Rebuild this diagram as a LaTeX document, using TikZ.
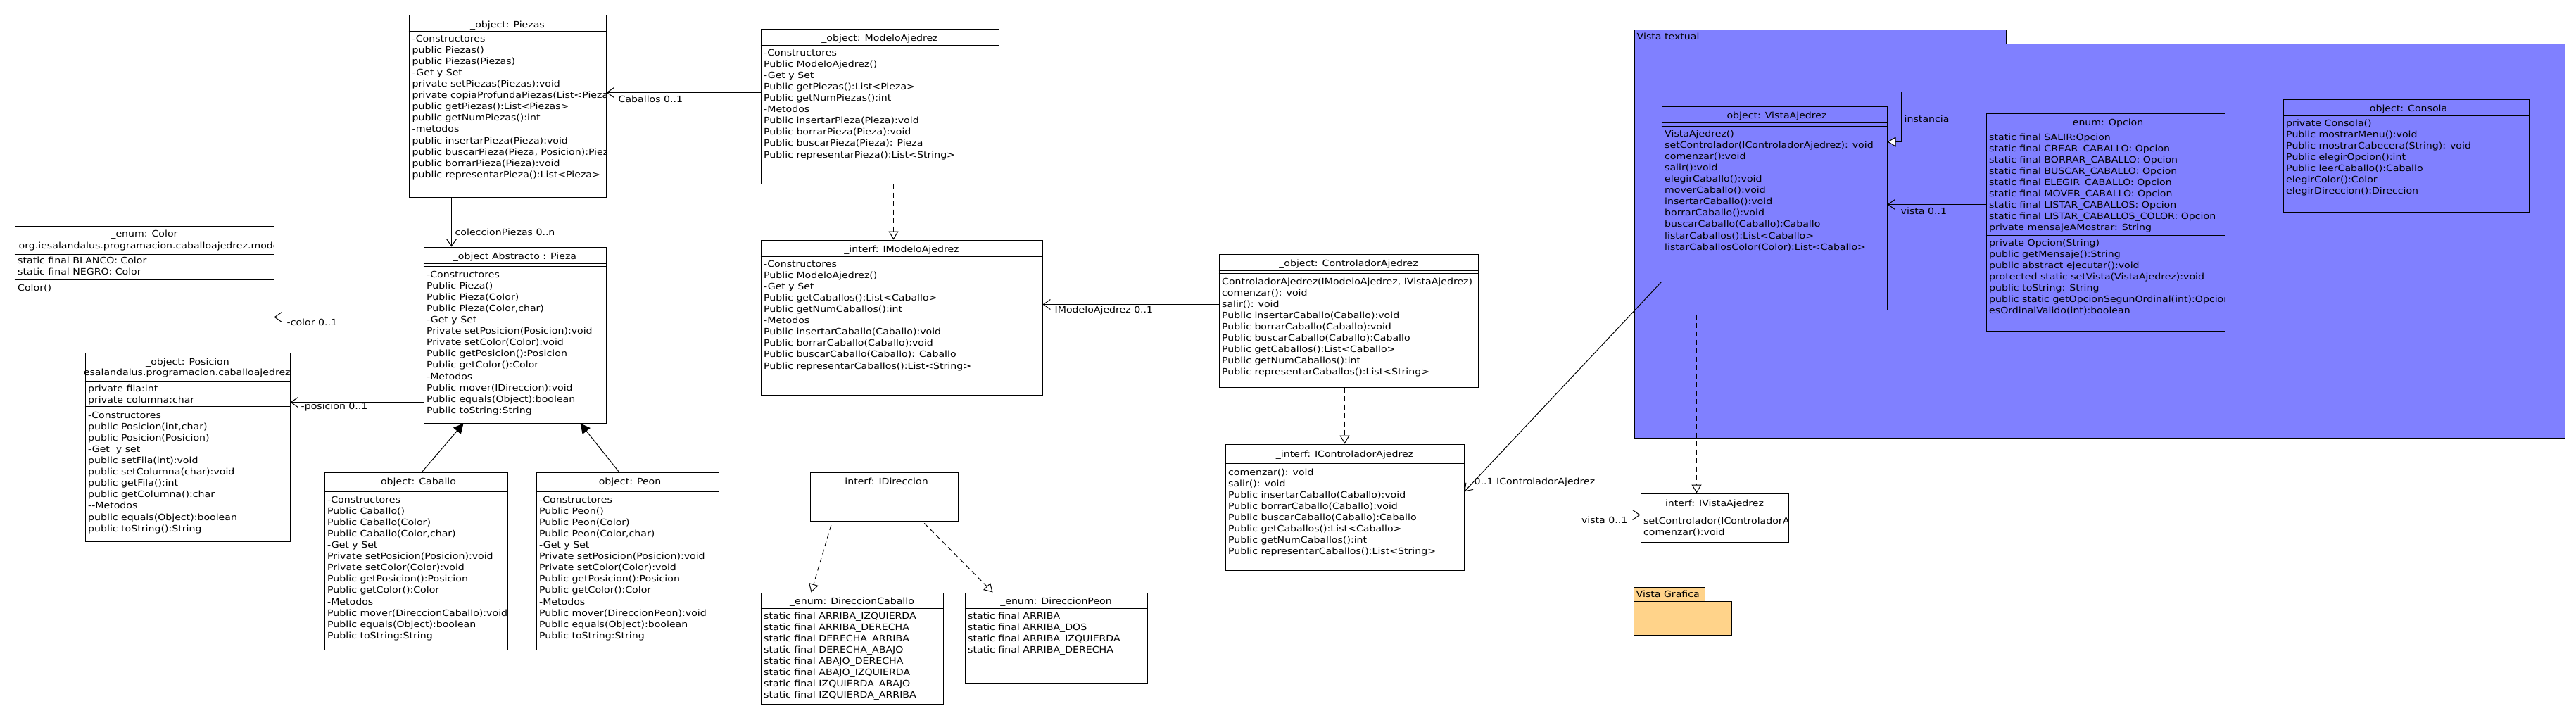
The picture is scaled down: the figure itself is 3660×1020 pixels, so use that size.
\documentclass[tikz,border=0pt]{standalone}
\usepackage{fontspec}
\setmainfont{DejaVu Sans}[FakeStretch=1.13]
\usetikzlibrary{arrows.meta,calc}
\newcommand\fs{\fontsize{12.5}{16.1}\selectfont}
\definecolor{vtfill}{RGB}{128,128,255}
\definecolor{vgfill}{RGB}{255,211,138}
\newcommand\cls[5]{\node[ubox, minimum width=#4pt, minimum height=#5pt] (#1) at (#2,#3) {};}
\newcommand\ksep[2]{\draw[sepl] (#1.west |- 0,#2) -- (#1.east |- 0,#2);}
\newcommand\kdsep[3]{\ksep{#1}{#2}\ksep{#1}{#3}}
\newcommand\kclip[1]{\clip (#1.north west) rectangle (#1.south east);}
\begin{document}
\begin{tikzpicture}[x=1pt,y=-1pt,
 ubox/.style={draw, line width=1pt, inner sep=0pt, anchor=north west},
 txt/.style={anchor=north west, inner sep=0pt, align=left, font=\fs},
 ttl/.style={anchor=base, inner sep=0pt, font=\fs},
 lbl/.style={anchor=base west, inner sep=0pt, font=\fs},
 sepl/.style={line width=1pt},
 assoc/.style={line width=1pt, -{Straight Barb[length=10pt,width=14pt]}},
 gen/.style={line width=1pt, -{Triangle[length=14pt,width=14pt]}},
 real/.style={line width=1pt, dash pattern=on 7pt off 5pt, -{Triangle[length=12pt,width=14pt,fill=white]}},
 loopa/.style={line width=1pt, -{Triangle[length=12pt,width=14pt,fill=white]}},
]
\fill[white] (0,0) rectangle (3660,1020);
\useasboundingbox (0,0) rectangle (3660,1020);
\begin{scope}[shift={(0.5,0.5)}]

% ---------- packages ----------
\node[ubox, fill=vtfill, minimum width=528pt, minimum height=20pt] (vttab) at (2321,41) {};
\node[ubox, fill=vtfill, minimum width=1322pt, minimum height=560pt] (vtbody) at (2321,61) {};
\node[lbl] (vtlbl) at (2325,55.5) {Vista textual};
\node[ubox, fill=vgfill, minimum width=101pt, minimum height=20pt] (vgtab) at (2320,833) {};
\node[ubox, fill=vgfill, minimum width=139pt, minimum height=48pt] (vgbody) at (2320,853) {};
\node[lbl] (vglbl) at (2324,847.5) {Vista Grafica};

% ---------- Piezas ----------
\cls{piezas}{580}{20}{280}{259}
\ksep{piezas}{44}
\begin{scope}\kclip{piezas}
\node[ttl] (piezas-t) at ($(piezas.north)+(0,18.5)$) {\_object: Piezas};
\node[txt] (piezas-b) at (585,47.2) {\strut-Constructores\\public Piezas()\\public Piezas(Piezas)\\-Get y Set\\private setPiezas(Piezas):void\\private copiaProfundaPiezas(List<Pieza>):void\\public getPiezas():List<Piezas>\\public getNumPiezas():int\\-metodos\\public insertarPieza(Pieza):void\\public buscarPieza(Pieza, Posicion):Pieza\\public borrarPieza(Pieza):void\\public representarPieza():List<Pieza>};
\end{scope}

% ---------- ModeloAjedrez ----------
\cls{modelo}{1080}{40}{338}{220}
\ksep{modelo}{64}
\begin{scope}\kclip{modelo}
\node[ttl] (modelo-t) at ($(modelo.north)+(0,17.8)$) {\_object: ModeloAjedrez};
\node[txt] (modelo-b) at (1084.5,67.2) {\strut-Constructores\\Public ModeloAjedrez()\\-Get y Set\\Public getPiezas():List<Pieza>\\Public getNumPiezas():int\\-Metodos\\Public insertarPieza(Pieza):void\\Public borrarPieza(Pieza):void\\Public buscarPieza(Pieza): Pieza\\Public representarPieza():List<String>};
\end{scope}

% ---------- Color ----------
\cls{color}{20}{320}{368}{129}
\ksep{color}{361}
\ksep{color}{397}
\begin{scope}\kclip{color}
\node[ttl] (color-t) at ($(color.north)+(0,15.5)$) {\_enum: Color};
\node[lbl] (color-p) at (26,352.5) {org.iesalandalus.programacion.caballoajedrez.modelo};
\node[txt] (color-a) at (24.5,362.2) {\strut static final BLANCO: Color\\static final NEGRO: Color};
\node[txt] (color-m) at (24.5,401.2) {\strut Color()};
\end{scope}

% ---------- Pieza ----------
\cls{pieza}{601}{350}{259}{250}
\kdsep{pieza}{374}{378}
\begin{scope}\kclip{pieza}
\node[ttl] (pieza-t) at ($(pieza.north)+(0,17.5)$) {\_object Abstracto : Pieza};
\node[txt] (pieza-b) at (605.5,382.2) {\strut-Constructores\\Public Pieza()\\Public Pieza(Color)\\Public Pieza(Color,char)\\-Get y Set\\Private setPosicion(Posicion):void\\Private setColor(Color):void\\Public getPosicion():Posicion\\Public getColor():Color\\-Metodos\\Public mover(IDireccion):void\\Public equals(Object):boolean\\Public toString:String};
\end{scope}

% ---------- Posicion ----------
\cls{posicion}{120}{500}{291}{268}
\ksep{posicion}{541}
\ksep{posicion}{577}
\begin{scope}\kclip{posicion}
\node[ttl] (posicion-t) at ($(posicion.north)+(0,17.5)$) {\_object: Posicion};
\node[ttl] (posicion-p) at ($(posicion.north)+(12,32.5)$) {org.iesalandalus.programacion.caballoajedrez.modelo};
\node[txt] (posicion-a) at (124.5,544.2) {\strut private fila:int\\private columna:char};
\node[txt] (posicion-m) at (124.5,582.2) {\strut-Constructores\\public Posicion(int,char)\\public Posicion(Posicion)\\-Get~ y set\\public setFila(int):void\\public setColumna(char):void\\public getFila():int\\public getColumna():char\\-{}-Metodos\\public equals(Object):boolean\\public toString():String};
\end{scope}

% ---------- Caballo ----------
\cls{caballo}{460}{670}{260}{252}
\kdsep{caballo}{694}{698}
\begin{scope}\kclip{caballo}
\node[ttl] (caballo-t) at ($(caballo.north)+(0,17.5)$) {\_object: Caballo};
\node[txt] (caballo-b) at (464.5,702.2) {\strut-Constructores\\Public Caballo()\\Public Caballo(Color)\\Public Caballo(Color,char)\\-Get y Set\\Private setPosicion(Posicion):void\\Private setColor(Color):void\\Public getPosicion():Posicion\\Public getColor():Color\\-Metodos\\Public mover(DireccionCaballo):void\\Public equals(Object):boolean\\Public toString:String};
\end{scope}

% ---------- Peon ----------
\cls{peon}{761}{670}{259}{252}
\kdsep{peon}{694}{698}
\begin{scope}\kclip{peon}
\node[ttl] (peon-t) at ($(peon.north)+(0,17.5)$) {\_object: Peon};
\node[txt] (peon-b) at (765.5,702.2) {\strut-Constructores\\Public Peon()\\Public Peon(Color)\\Public Peon(Color,char)\\-Get y Set\\Private setPosicion(Posicion):void\\Private setColor(Color):void\\Public getPosicion():Posicion\\Public getColor():Color\\-Metodos\\Public mover(DireccionPeon):void\\Public equals(Object):boolean\\Public toString:String};
\end{scope}

% ---------- IModeloAjedrez ----------
\cls{imodelo}{1080}{340}{400}{220}
\ksep{imodelo}{364}
\begin{scope}\kclip{imodelo}
\node[ttl] (imodelo-t) at ($(imodelo.north)+(0,17.5)$) {\_interf: IModeloAjedrez};
\node[txt] (imodelo-b) at (1084.5,367.2) {\strut-Constructores\\Public ModeloAjedrez()\\-Get y Set\\Public getCaballos():List<Caballo>\\Public getNumCaballos():int\\-Metodos\\Public insertarCaballo(Caballo):void\\Public borrarCaballo(Caballo):void\\Public buscarCaballo(Caballo): Caballo\\Public representarCaballos():List<String>};
\end{scope}

% ---------- IDireccion ----------
\cls{idir}{1150}{670}{210}{69}
\ksep{idir}{694}
\node[ttl] (idir-t) at ($(idir.north)+(0,17.5)$) {\_interf: IDireccion};

% ---------- DireccionCaballo ----------
\cls{dircab}{1080}{841}{259}{158}
\ksep{dircab}{864}
\begin{scope}\kclip{dircab}
\node[ttl] (dircab-t) at ($(dircab.north)+(0,16.5)$) {\_enum: DireccionCaballo};
\node[txt] (dircab-b) at (1084.5,867.2) {\strut static final ARRIBA\_IZQUIERDA\\static final ARRIBA\_DERECHA\\static final DERECHA\_ARRIBA\\static final DERECHA\_ABAJO\\static final ABAJO\_DERECHA\\static final ABAJO\_IZQUIERDA\\static final IZQUIERDA\_ABAJO\\static final IZQUIERDA\_ARRIBA};
\end{scope}

% ---------- DireccionPeon ----------
\cls{dirpeon}{1370}{841}{259}{128}
\ksep{dirpeon}{864}
\begin{scope}\kclip{dirpeon}
\node[ttl] (dirpeon-t) at ($(dirpeon.north)+(0,16.5)$) {\_enum: DireccionPeon};
\node[txt] (dirpeon-b) at (1374.5,867.2) {\strut static final ARRIBA\\static final ARRIBA\_DOS\\static final ARRIBA\_IZQUIERDA\\static final ARRIBA\_DERECHA};
\end{scope}

% ---------- ControladorAjedrez ----------
\cls{controlador}{1731}{360}{368}{189}
\kdsep{controlador}{384}{388}
\begin{scope}\kclip{controlador}
\node[ttl] (controlador-t) at ($(controlador.north)+(0,17.5)$) {\_object: ControladorAjedrez};
\node[txt] (controlador-b) at (1735.5,392.2) {\strut ControladorAjedrez(IModeloAjedrez, IVistaAjedrez)\\comenzar(): void\\salir(): void\\Public insertarCaballo(Caballo):void\\Public borrarCaballo(Caballo):void\\Public buscarCaballo(Caballo):Caballo\\Public getCaballos():List<Caballo>\\Public getNumCaballos():int\\Public representarCaballos():List<String>};
\end{scope}

% ---------- IControladorAjedrez ----------
\cls{icontrol}{1740}{630}{339}{179}
\kdsep{icontrol}{653}{658}
\begin{scope}\kclip{icontrol}
\node[ttl] (icontrol-t) at ($(icontrol.north)+(0,18.5)$) {\_interf: IControladorAjedrez};
\node[txt] (icontrol-b) at (1744.5,663.2) {\strut comenzar(): void\\salir(): void\\Public insertarCaballo(Caballo):void\\Public borrarCaballo(Caballo):void\\Public buscarCaballo(Caballo):Caballo\\Public getCaballos():List<Caballo>\\Public getNumCaballos():int\\Public representarCaballos():List<String>};
\end{scope}

% ---------- IVistaAjedrez ----------
\cls{ivista}{2330}{700}{210}{69}
\kdsep{ivista}{724}{727}
\begin{scope}\kclip{ivista}
\node[ttl] (ivista-t) at ($(ivista.north)+(0,18.5)$) {interf: IVistaAjedrez};
\node[txt] (ivista-b) at (2334.5,732.2) {\strut setControlador(IControladorAjedrez):void\\comenzar():void};
\end{scope}

% ---------- VistaAjedrez ----------
\cls{vista}{2360}{150}{320}{289}
\kdsep{vista}{174}{179}
\begin{scope}\kclip{vista}
\node[ttl] (vista-t) at ($(vista.north)+(0,17.5)$) {\_object: VistaAjedrez};
\node[txt] (vista-b) at (2364.5,182.2) {\strut VistaAjedrez()\\setControlador(IControladorAjedrez): void\\comenzar():void\\salir():void\\elegirCaballo():void\\moverCaballo():void\\insertarCaballo():void\\borrarCaballo():void\\buscarCaballo(Caballo):Caballo\\listarCaballos():List<Caballo>\\listarCaballosColor(Color):List<Caballo>};
\end{scope}

% ---------- Opcion ----------
\cls{opcion}{2821}{160}{339}{309}
\ksep{opcion}{184}
\ksep{opcion}{334}
\begin{scope}\kclip{opcion}
\node[ttl] (opcion-t) at ($(opcion.north)+(0,17.5)$) {\_enum: Opcion};
\node[txt] (opcion-a) at (2825.5,187.2) {\strut static final SALIR:Opcion\\static final CREAR\_CABALLO: Opcion\\static final BORRAR\_CABALLO: Opcion\\static final BUSCAR\_CABALLO: Opcion\\static final ELEGIR\_CABALLO: Opcion\\static final MOVER\_CABALLO: Opcion\\static final LISTAR\_CABALLOS: Opcion\\static final LISTAR\_CABALLOS\_COLOR: Opcion\\private mensajeAMostrar: String};
\node[txt] (opcion-m) at (2825.5,337.2) {\strut private Opcion(String)\\public getMensaje():String\\public abstract ejecutar():void\\protected static setVista(VistaAjedrez):void\\public toString: String\\public static getOpcionSegunOrdinal(int):Opcion\\esOrdinalValido(int):boolean};
\end{scope}

% ---------- Consola ----------
\cls{consola}{3243}{140}{349}{160}
\ksep{consola}{164}
\begin{scope}\kclip{consola}
\node[ttl] (consola-t) at ($(consola.north)+(0,17.5)$) {\_object: Consola};
\node[txt] (consola-b) at (3247.5,167.2) {\strut private Consola()\\Public mostrarMenu():void\\Public mostrarCabecera(String): void\\Public elegirOpcion():int\\Public leerCaballo():Caballo\\elegirColor():Color\\elegirDireccion():Direccion};
\end{scope}

% ---------- connectors ----------
\draw[assoc] (modelo.west |- 0,131) -- (piezas.east |- 0,131);
\node[lbl] (l-cab) at (878,144.5) {Caballos 0..1};
\draw[assoc] (piezas.south -| 641,0) -- (pieza.north -| 641,0);
\node[lbl] (l-col) at (646,333.5) {coleccionPiezas 0..n};
\draw[assoc] (pieza.west |- 0,450) -- (color.east |- 0,450);
\node[lbl] (l-color) at (407,462) {-color 0..1};
\draw[assoc] (pieza.west |- 0,571) -- (posicion.east |- 0,571);
\node[lbl] (l-pos) at (427,581) {-posicion 0..1};
\draw[gen] (caballo.north -| 599,0) -- (pieza.south -| 658,0);
\draw[gen] (peon.north -| 879,0) -- (pieza.south -| 824,0);
\draw[real] (modelo.south -| 1269,0) -- (imodelo.north -| 1269,0);
\draw[assoc] (controlador.west |- 0,432) -- (imodelo.east |- 0,432);
\node[lbl] (l-imod) at (1498,443.5) {IModeloAjedrez 0..1};
\draw[real] (controlador.south -| 1910,0) -- (icontrol.north -| 1910,0);
\draw[real, shorten <=6pt] (idir.south -| 1182,0) -- (dircab.north -| 1152,0);
\draw[real, shorten <=4pt] (idir.south -| 1310,0) -- (dirpeon.north -| 1410,0);
\draw[assoc] (vista.west |- 0,400) -- (icontrol.east |- 0,698);
\node[lbl] (l-icon) at (2094,687.5) {0..1 IControladorAjedrez};
\draw[assoc] (icontrol.east |- 0,731) -- (ivista.west |- 0,731);
\node[lbl, anchor=base east] (l-vis2) at (2312,742.5) {vista 0..1};
\draw[real, shorten <=6pt] (vista.south -| 2410,0) -- (ivista.north -| 2410,0);
\draw[loopa] (vista.north -| 2550,0) -- (2550,130) -- (2701,130) -- (2701,201) -- (vista.east |- 0,201);
\node[lbl] (l-inst) at (2705,172.5) {instancia};
\draw[assoc] (opcion.west |- 0,290) -- (vista.east |- 0,290);
\node[lbl] (l-vis1) at (2700,303.5) {vista 0..1};
\end{scope}
\end{tikzpicture}
\end{document}
